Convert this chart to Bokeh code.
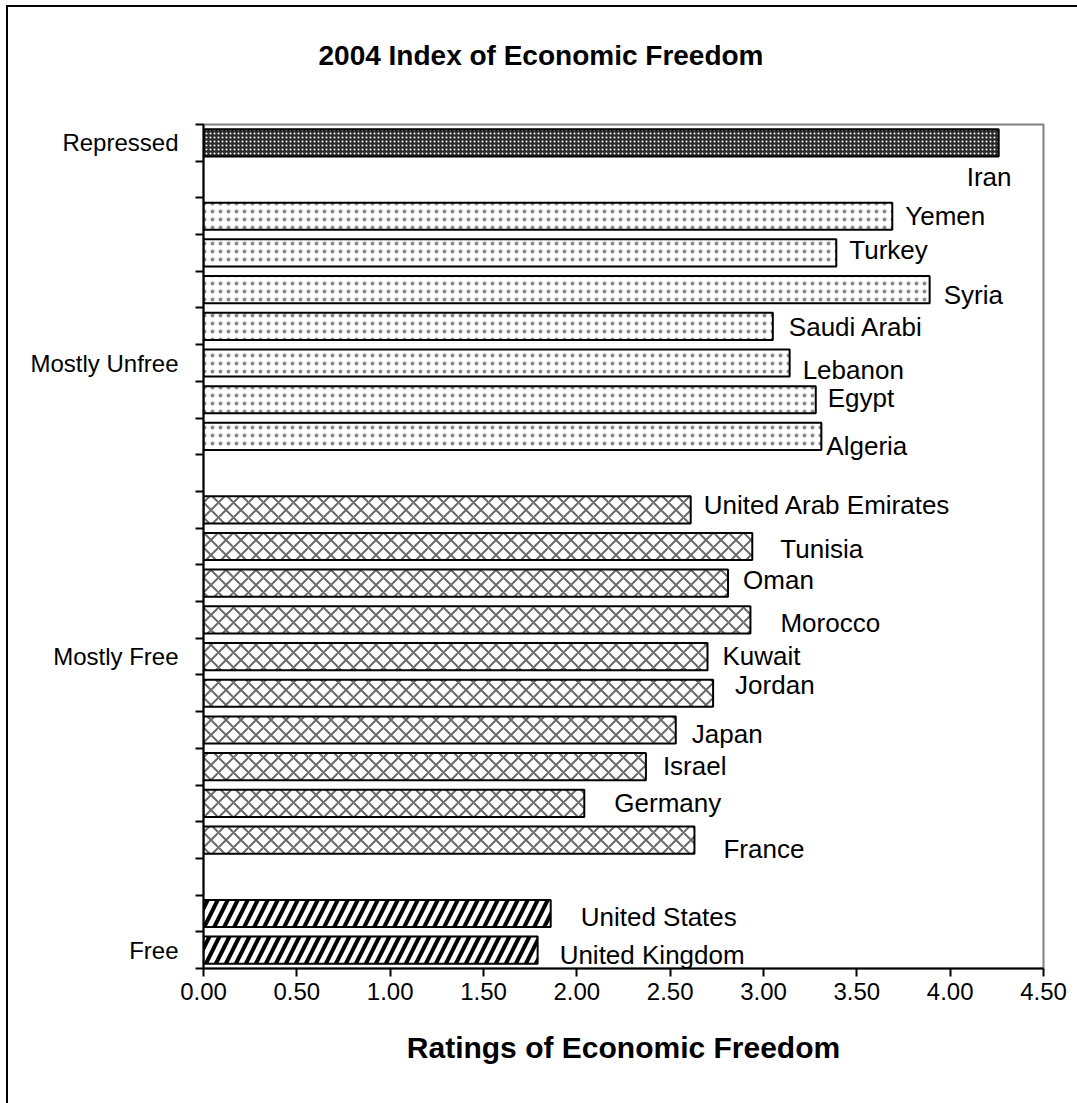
from bokeh.plotting import figure
from bokeh.layouts import column
from bokeh.models import ColumnDataSource, Range1d, FixedTicker, NumeralTickFormatter, Title
from bokeh.core.properties import value
from bokeh.embed import file_html
from bokeh.resources import INLINE

# ---------------- data ----------------
countries = ["Iran", "Yemen", "Turkey", "Syria", "Saudi Arabi", "Lebanon", "Egypt", "Algeria",
             "United Arab Emirates", "Tunisia", "Oman", "Morocco", "Kuwait", "Jordan", "Japan",
             "Israel", "Germany", "France", "United States", "United Kingdom"]
ratings = [4.26, 3.69, 3.39, 3.89, 3.05, 3.14, 3.28, 3.31,
           2.61, 2.94, 2.81, 2.93, 2.70, 2.73, 2.53, 2.37, 2.04, 2.63,
           1.86, 1.79]
groups = (["Repressed"] + ["Mostly Unfree"] * 7 + ["Mostly Free"] * 10 + ["Free"] * 2)
group_names = ["Repressed", "Mostly Unfree", "Mostly Free", "Free"]
# row that carries each group's axis label
group_label_rows = ["Iran", "Lebanon", "Kuwait", "United Kingdom"]
x_ticks = [0.0, 0.5, 1.0, 1.5, 2.0, 2.5, 3.0, 3.5, 4.0, 4.5]
title_text = "2004 Index of Economic Freedom"
x_title = "Ratings of Economic Freedom"

# data-label placement (pixels from bar end / bar centre) - style only
label_dx = [-32, 13, 13, 14, 16, 13, 12, 5, 13, 28, 15, 30, 15, 22, 16, 17, 30, 29, 30, 22]
label_dy = [34, 0, -3, 5, 1, 7, -2, 10, -5, 2, -3, 3, -1, -8, 4, -1, 0, 9, 4, 5]

# ---------------- layout of rows (blank row between groups) ----------------
rows = []
r = 0
for i, g in enumerate(groups):
    if i > 0 and g != groups[i - 1]:
        r += 1
    rows.append(r)
    r += 1
n_rows = r

styles = {
    "Repressed": dict(fill_color="#2a2a2a", hatch_pattern="dot", hatch_color="white",
                      hatch_scale=4, hatch_weight=2),
    "Mostly Unfree": dict(fill_color="white", hatch_pattern="dot", hatch_color="#8a8a8a",
                          hatch_scale=8, hatch_weight=1.5),
    "Mostly Free": dict(fill_color="white", hatch_pattern="diagonal_cross", hatch_color="#6a6a6a",
                        hatch_scale=15, hatch_weight=2),
    "Free": dict(fill_color="white", hatch_pattern="right_diagonal_line", hatch_color="black",
                 hatch_scale=20, hatch_weight=4),
}

FONT = value("Liberation Sans")

p = figure(width=1069, height=1096, output_backend="svg", toolbar_location=None,
           x_range=Range1d(0, 4.5), y_range=Range1d(n_rows - 0.5, -0.5),
           min_border_left=195, min_border_right=34, min_border_top=117, min_border_bottom=135)

p.background_fill_color = "white"
p.border_fill_color = "white"
p.outline_line_color = "#808080"
p.outline_line_width = 2
p.xgrid.visible = False
p.ygrid.visible = False

for g in group_names:
    idx = [i for i, gg in enumerate(groups) if gg == g]
    src = ColumnDataSource(dict(y=[rows[i] for i in idx], right=[ratings[i] for i in idx]))
    p.hbar(y="y", left=0, right="right", height=0.74, source=src,
           line_color="black", line_width=2, **styles[g])

lab_src = ColumnDataSource(dict(x=ratings, y=rows, text=countries, dx=label_dx, dy=label_dy))
p.text(x="x", y="y", text="text", x_offset="dx", y_offset="dy", source=lab_src,
       text_font=FONT, text_font_size="26px", text_color="black",
       text_align="left", text_baseline="middle")

# x axis
xa = p.xaxis[0]
xa.ticker = FixedTicker(ticks=x_ticks)
xa.formatter = NumeralTickFormatter(format="0.00")
xa.axis_line_width = 2
xa.axis_line_color = "black"
xa.major_tick_line_width = 2
xa.major_tick_out = 8
xa.major_tick_in = 0
xa.minor_tick_line_color = None
xa.major_label_text_font = "Liberation Sans"
xa.major_label_text_font_size = "24px"
xa.major_label_text_color = "black"
xa.major_label_standoff = 6
xa.axis_label = x_title
xa.axis_label_text_font = "Liberation Sans"
xa.axis_label_text_font_size = "30px"
xa.axis_label_text_font_style = "bold"
xa.axis_label_text_color = "black"
xa.axis_label_standoff = 28

# y axis
ya = p.yaxis[0]
label_rows = [rows[countries.index(c)] for c in group_label_rows]
ya.ticker = FixedTicker(ticks=label_rows, minor_ticks=[k - 0.5 for k in range(n_rows + 1)])
ya.major_label_overrides = {lr: gn for lr, gn in zip(label_rows, group_names)}
ya.axis_line_width = 2
ya.axis_line_color = "black"
ya.major_tick_line_color = None
ya.major_tick_out = 0
ya.major_tick_in = 0
ya.minor_tick_line_color = "black"
ya.minor_tick_line_width = 2
ya.minor_tick_out = 8
ya.minor_tick_in = 0
ya.major_label_text_font = "Liberation Sans"
ya.major_label_text_font_size = "24px"
ya.major_label_text_color = "black"
ya.major_label_standoff = 17

# spacer between frame and title (title is stacked outermost)
p.add_layout(Title(text=" ", text_font_size="1px", standoff=46), "above")

p.title.text = title_text
p.title.text_font = "Liberation Sans"
p.title.text_font_size = "28px"
p.title.text_font_style = "bold"
p.title.text_color = "black"
p.title.align = "left"
p.title.offset = 115
p.title.standoff = 10

layout = column(p, margin=(5, 0, 0, 6),
                styles={"border-left": "2px solid black", "border-top": "2px solid black"})

open("out.html", "w").write(file_html(layout, INLINE))
